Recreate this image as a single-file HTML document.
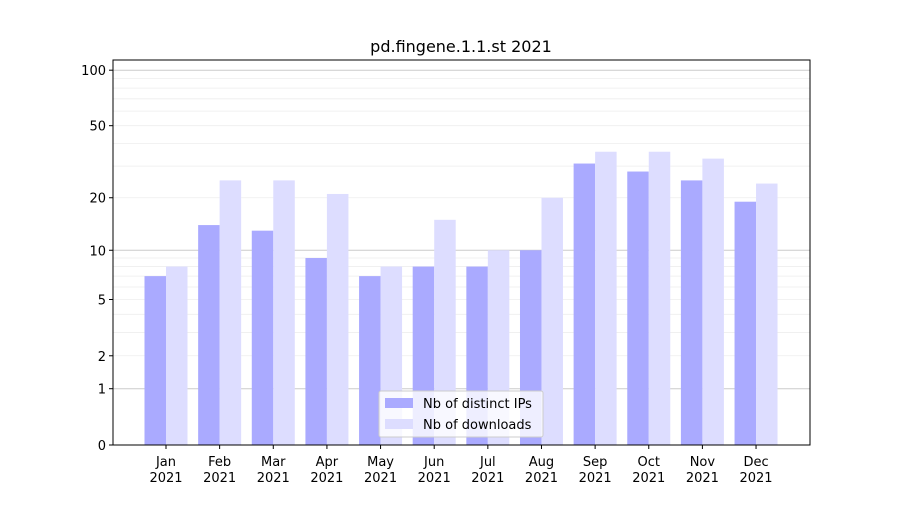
<!DOCTYPE html>
<html><head><meta charset="utf-8"><style>
body{margin:0;background:#fff;font-family:"Liberation Sans","DejaVu Sans",sans-serif}
</style></head><body>
<svg id="chart" width="900" height="500" xmlns="http://www.w3.org/2000/svg" font-family="DejaVu Sans, Liberation Sans, sans-serif">
<text x="461" y="52" text-anchor="middle" font-size="16">pd.fingene.1.1.st 2021</text>
<g id="grid"></g><g id="bars"></g><g id="axes"></g>
<g>
<rect x="379" y="391" width="164" height="46" fill="#fff" fill-opacity="0.8" stroke="#ccc" rx="2"/>
<rect x="385" y="398" width="28" height="10" fill="#aaaaff"/>
<text x="423" y="408" font-size="13">Nb of distinct IPs</text>
<rect x="385" y="419" width="28" height="10" fill="#ddddff"/>
<text x="423" y="429" font-size="13">Nb of downloads</text>
</g>
</svg>
<script>
const months=["Jan","Feb","Mar","Apr","May","Jun","Jul","Aug","Sep","Oct","Nov","Dec"];
const ips=[7,14,13,9,7,8,8,10,31,28,25,19];
const downloads=[8,25,25,21,8,15,10,20,36,36,33,24];
const yTicks=[0,1,2,5,10,20,50,100];
const NS="http://www.w3.org/2000/svg";
const X0=113,X1=810,Y0=445,YT=60;
const y=v=>Y0-187*Math.log10(1+v);
const xc=i=>166+i*53.64;
function mk(t,a,p){const e=document.createElementNS(NS,t);for(const k in a)e.setAttribute(k,a[k]);p.appendChild(e);return e;}
const grid=document.getElementById('grid'),bars=document.getElementById('bars'),axes=document.getElementById('axes');
[1,10,100].forEach(d=>{for(let m=2;m<=9;m++){const v=d*m;if(y(v)<YT)continue;const l=mk('line',{x1:X0,x2:X1,y1:y(v),y2:y(v),stroke:'#eee','stroke-width':0.8},grid);

}});
[1,10,100].forEach(v=>{const l=mk('line',{x1:X0,x2:X1,y1:y(v),y2:y(v),stroke:'#ccc','stroke-width':1},grid);

});
months.forEach((m,i)=>{
 const a=mk('rect',{x:xc(i)-21.5,y:y(ips[i]),width:21.5,height:Y0-y(ips[i]),fill:'#aaaaff'},bars);
 
 
 const b=mk('rect',{x:xc(i),y:y(downloads[i]),width:21.5,height:Y0-y(downloads[i]),fill:'#ddddff'},bars);
 
 
 mk('line',{x1:xc(i),x2:xc(i),y1:Y0,y2:Y0+4,stroke:'#000'},axes);
 const t=mk('text',{x:xc(i),y:Y0+21,'text-anchor':'middle','font-size':13},axes);t.textContent=m;
 
 
 const t2=mk('text',{x:xc(i),y:Y0+37,'text-anchor':'middle','font-size':13},axes);t2.textContent='2021';
 
 
});
yTicks.forEach(v=>{mk('line',{x1:X0-4,x2:X0,y1:y(v),y2:y(v),stroke:'#000'},axes);
 const t=mk('text',{x:X0-7,y:y(v)+5,'text-anchor':'end','font-size':13},axes);t.textContent=v;
 
 });
const f=mk('rect',{x:X0,y:YT,width:X1-X0,height:Y0-YT,fill:'none',stroke:'#000','stroke-width':1},axes);


</script>
</body></html>
